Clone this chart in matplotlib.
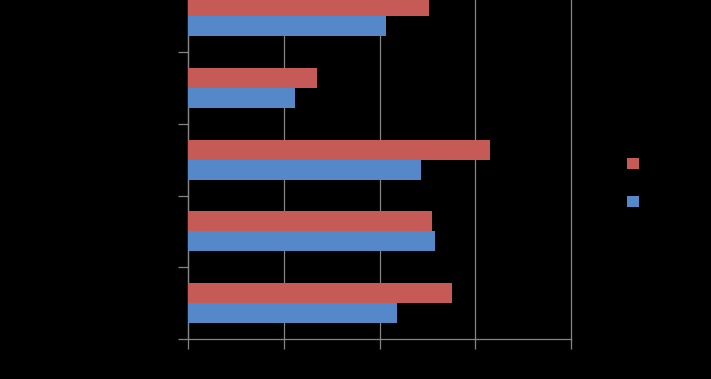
import matplotlib
matplotlib.use("Agg")
import matplotlib.pyplot as plt
import numpy as np
from matplotlib.patches import Patch

# categories bottom -> top (labels are drawn black on black in the reference)
categories = ["1", "2", "3", "4", "5"]
series_red = [27.6, 25.5, 31.5, 13.5, 25.2]
series_blue = [21.8, 25.8, 24.3, 11.2, 20.7]
x_ticks = [0, 10, 20, 30, 40]

RED = "#C55A57"
BLUE = "#5588C8"
GRID = "#868686"

fig = plt.figure(figsize=(7.11, 3.79), dpi=100, facecolor="black")
ax = fig.add_axes([188 / 711, 40 / 379, 383 / 711, 358.7 / 379], facecolor="black")

y = np.arange(len(categories))
h = 0.279
ax.barh(y + h / 2, series_red, height=h, color=RED, zorder=3)
ax.barh(y - h / 2, series_blue, height=h, color=BLUE, zorder=3)

ax.set_xlim(x_ticks[0], x_ticks[-1])
ax.set_ylim(-0.5, len(categories) - 0.5)
ax.set_xticks(x_ticks)
ax.set_xticklabels([str(t) for t in x_ticks], color="black")
ax.set_yticks(np.arange(len(categories) + 1) - 0.5)
ax.set_yticklabels([])
ax.xaxis.grid(True, color=GRID, linewidth=0.9, zorder=0)
for gl in ax.get_xgridlines():
    gl.set_clip_on(False)

for side in ("top", "right"):
    ax.spines[side].set_visible(False)
for side in ("left", "bottom"):
    ax.spines[side].set_color(GRID)
    ax.spines[side].set_linewidth(0.9)
ax.tick_params(axis="both", color=GRID, length=7, width=0.9, direction="out")

handles = [Patch(facecolor=RED), Patch(facecolor=BLUE)]
fig.legend(handles, ["Series 2", "Series 1"], loc="upper left",
           bbox_to_anchor=(620 / 711, 1 - 150 / 379), frameon=False,
           handlelength=0.86, handleheight=0.86, labelspacing=1.75,
           fontsize=10, labelcolor="black", borderpad=0)

fig.savefig("out.png", dpi=100, facecolor="black")
